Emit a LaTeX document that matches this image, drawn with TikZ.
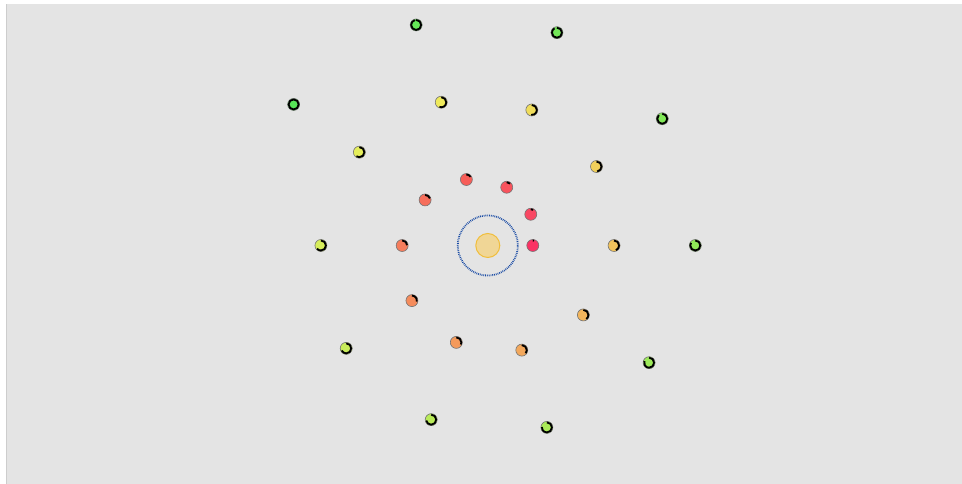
\documentclass[tikz,border=0pt]{standalone}
\usepackage{xcolor}
\usetikzlibrary{calc}
\definecolor{PanelGray}{RGB}{228,228,228}
\definecolor{PanelEdge}{RGB}{205,205,205}
\definecolor{SunFill}{RGB}{240,214,150}
\definecolor{SunEdge}{RGB}{240,190,60}
\definecolor{OrbitBlue}{RGB}{25,75,165}
\tikzset{
 planet/.style={circle,minimum size=12pt,inner sep=0pt,draw=black!55,line width=.6pt},
 phase/.style={black,line width=1.8pt}
}

\begin{document}
\begin{tikzpicture}[x=1pt,y=1pt]
\useasboundingbox (0,0) rectangle (962,484);
\fill[PanelGray] (6,0) rectangle (962,480);
\draw[PanelEdge,line width=1pt] (6.5,0) -- (6.5,480);
\coordinate (sun) at (487.8,238.5);
\node[circle,minimum size=24pt,inner sep=0pt,fill=SunFill,draw=SunEdge,line width=1pt] (star) at (sun) {};
\draw[OrbitBlue,dash pattern=on .8pt off 1pt,line width=1.8pt] (sun) circle (30);
% spiral of planets, hue runs from crimson to green
\foreach \i in {1,...,25}{
 \pgfmathsetmacro{\hue}{mod(345+(\i-1)*135/24,360)}
 \pgfmathsetmacro{\sat}{0.62+0.18*exp(-(\i-1)/1.5)}
 \pgfmathsetmacro{\bri}{0.98-(\i-1)*0.08/24}
 \definecolor{hsbcol}{Hsb}{\hue,\sat,\bri}
 \colorlet{dotcol}[rgb]{hsbcol}
 \pgfmathsetmacro{\ang}{36*(\i-1)}
 \pgfmathsetmacro{\rad}{45+(\i-1)*8.125}
 \pgfmathsetmacro{\sweep}{360*\i/25}
 \node[planet,fill=dotcol] (p\i) at ($(sun)+(\ang:\rad)$) {};
 \draw[phase] ($(p\i.center)+(90:5)$) arc[start angle=90,delta angle=-\sweep,radius=5];
}
\end{tikzpicture}
\end{document}
